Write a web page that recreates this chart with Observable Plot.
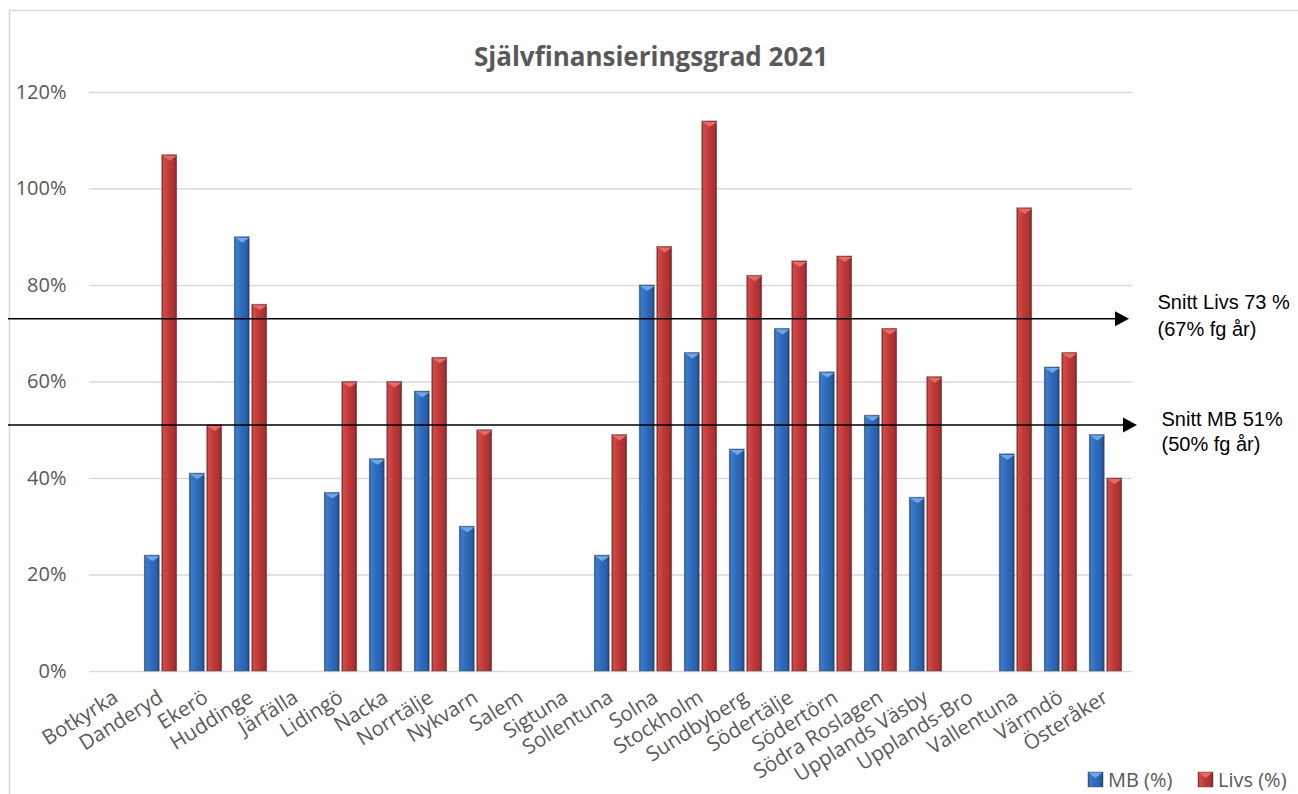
<!DOCTYPE html>
<html>
<head>
<meta charset="utf-8">
<script src="https://cdn.jsdelivr.net/npm/d3@7"></script>
<script src="https://cdn.jsdelivr.net/npm/@observablehq/plot@0.6"></script>
<style>
  html, body { margin: 0; padding: 0; background: #fff; }
  #chart svg { display: block; }
</style>
</head>
<body>
<div id="chart"></div>
<script>
// ---- data ----
const categories = ["Botkyrka", "Danderyd", "Ekerö", "Huddinge", "Järfälla", "Lidingö", "Nacka", "Norrtälje", "Nykvarn", "Salem", "Sigtuna", "Sollentuna", "Solna", "Stockholm", "Sundbyberg", "Södertälje", "Södertörn", "Södra Roslagen", "Upplands Väsby", "Upplands-Bro", "Vallentuna", "Värmdö", "Österåker"];
const mbValues   = [null, 24, 41, 90, null, 37, 44, 58, 30, null, null, 24, 80, 66, 46, 71, 62, 53, 36, null, 45, 63, 49];
const livsValues = [null, 107, 51, 76, null, 60, 60, 65, 50, null, null, 49, 88, 114, 82, 85, 86, 71, 61, null, 96, 66, 40];
const seriesNames = ["MB (%)", "Livs (%)"];
const yTicks = [0, 20, 40, 60, 80, 100, 120];
const chartTitle = "Självfinansieringsgrad 2021";
const avgLivs = 73;
const avgMB = 51;
const livsNote = ["Snitt Livs 73 %", "(67% fg år)"];
const mbNote = ["Snitt MB 51%", "(50% fg år)"];

const mbData = categories.map((c, i) => ({cat: c, v: mbValues[i]})).filter(d => d.v != null);
const livsData = categories.map((c, i) => ({cat: c, v: livsValues[i]})).filter(d => d.v != null);

// bevel symbol (flat downward triangle at the top of each bar)
const bevel = {
  draw(ctx) {
    ctx.moveTo(-7.2, 0.5);
    ctx.lineTo(7.2, 0.5);
    ctx.lineTo(0, 5.5);
    ctx.closePath();
  }
};

function defs() {
  const g = d3.create("svg:g");
  const d = g.append("defs");
  const mk = (id, stops) => {
    const lg = d.append("linearGradient").attr("id", id).attr("x1", 0).attr("x2", 1).attr("y1", 0).attr("y2", 0);
    stops.forEach(([o, c]) => lg.append("stop").attr("offset", o).attr("stop-color", c));
  };
  mk("gBlue", [[0, "#1d4a86"], [0.12, "#3d7bcc"], [0.45, "#2f6cbd"], [0.85, "#285fa9"], [1, "#173e74"]]);
  mk("gRed",  [[0, "#8a2323"], [0.12, "#d24a48"], [0.45, "#c13a39"], [0.85, "#aa3030"], [1, "#7a1d1d"]]);
  return g.node();
}

function frameBorder(index, scales, values, dims) {
  const g = d3.create("svg:g");
  g.append("path")
    .attr("d", `M9.5,${dims.height} V10.5 H${dims.width}`)
    .attr("fill", "none").attr("stroke", "#d9d9d9").attr("stroke-width", 1.5);
  g.append("text")
    .attr("x", 651).attr("y", 66)
    .attr("text-anchor", "middle")
    .attr("font-size", 26).attr("font-weight", "bold")
    .attr("fill", "#595959")
    .text(chartTitle);
  return g.node();
}

function arrows(index, scales, values, dims) {
  const g = d3.create("svg:g");
  const draw = (val, tip) => {
    const y = scales.y(val);
    g.append("line").attr("x1", 8).attr("x2", tip - 12).attr("y1", y).attr("y2", y)
      .attr("stroke", "#000").attr("stroke-width", 1.6);
    g.append("path").attr("d", `M${tip},${y} L${tip - 14},${y - 7.5} L${tip - 14},${y + 7.5} Z`).attr("fill", "#000");
  };
  draw(avgLivs, 1129);
  draw(avgMB, 1137);
  return g.node();
}

function legend(index, scales, values, dims) {
  const g = d3.create("svg:g");
  const items = [
    {name: seriesNames[0], fill: "url(#gBlue)", top: "#6fa6e6", x: 1088},
    {name: seriesNames[1], fill: "url(#gRed)", top: "#e46b66", x: 1198}
  ];
  for (const it of items) {
    g.append("rect").attr("x", it.x).attr("y", 772).attr("width", 15).attr("height", 15)
      .attr("fill", it.fill).attr("stroke", "#555").attr("stroke-opacity", 0.5);
    g.append("path").attr("d", `M${it.x + 0.5},772.5 H${it.x + 14.5} L${it.x + 7.5},778 Z`).attr("fill", it.top);
    g.append("text").attr("x", it.x + 20).attr("y", 780).attr("dy", "0.35em")
      .attr("text-anchor", "start")
      .attr("font-size", 20).attr("fill", "#595959").text(it.name);
  }
  return g.node();
}

const chart = Plot.plot({
  width: 1298,
  height: 794,
  marginLeft: 89,
  marginRight: 166,
  marginTop: 92,
  marginBottom: 123,
  style: {fontFamily: "'Open Sans', sans-serif", background: "#fff", color: "#595959", overflow: "visible"},
  x: {domain: categories, padding: 0, label: null},
  y: {domain: [0, 120], label: null},
  marks: [
    defs,
    frameBorder,
    Plot.gridY(yTicks, {stroke: "#d9d9d9", strokeOpacity: 1, strokeWidth: 1.5}),
    Plot.axisY(yTicks, {tickSize: 0, tickPadding: 23, fontSize: 20, fill: "#595959", tickFormat: d => d + "%", label: null}),
    Plot.axisX({tickSize: 0, tickPadding: 24, tickRotate: -32, fontSize: 20.5, fill: "#595959", label: null}),
    Plot.barY(mbData, {x: "cat", y: "v", dx: -8.7, insetLeft: 15.1, insetRight: 15.1, fill: "url(#gBlue)", stroke: "#3a3a3a", strokeOpacity: 0.45, strokeWidth: 1}),
    Plot.barY(livsData, {x: "cat", y: "v", dx: 8.7, insetLeft: 15.1, insetRight: 15.1, fill: "url(#gRed)", stroke: "#3a3a3a", strokeOpacity: 0.45, strokeWidth: 1}),
    Plot.dot(mbData, {x: "cat", y: "v", dx: -8.7, symbol: bevel, fill: "#6fa6e6", stroke: null}),
    Plot.dot(livsData, {x: "cat", y: "v", dx: 8.7, symbol: bevel, fill: "#e46b66", stroke: null}),
    arrows,
    Plot.text([livsNote.join("\n")], {y: [avgLivs], frameAnchor: "right", dx: 25, dy: -5, textAnchor: "start", lineAnchor: "middle", lineHeight: 1.35, fontSize: 20, fontFamily: "'Liberation Sans', Arial, sans-serif", fill: "#000"}),
    Plot.text([mbNote.join("\n")], {y: [avgMB], frameAnchor: "right", dx: 29, dy: 5.5, textAnchor: "start", lineAnchor: "middle", lineHeight: 1.25, fontSize: 20, fontFamily: "'Liberation Sans', Arial, sans-serif", fill: "#000"}),
    legend
  ]
});
document.getElementById("chart").appendChild(chart);
</script>
</body>
</html>
